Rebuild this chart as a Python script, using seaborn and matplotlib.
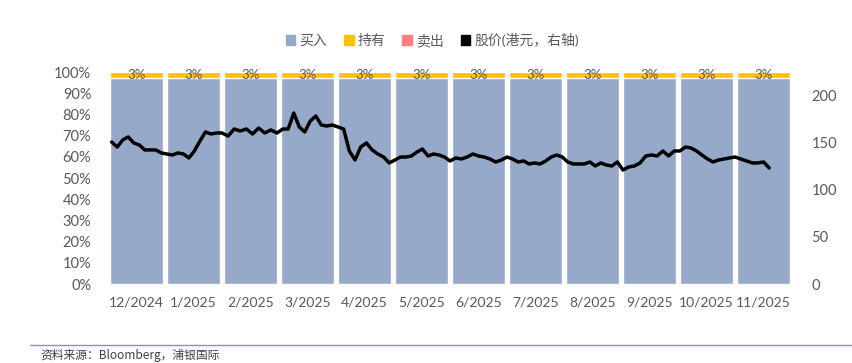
import numpy as np
import pandas as pd
import matplotlib
matplotlib.use("Agg")
import matplotlib.pyplot as plt
import seaborn as sns
from matplotlib.patches import Patch
from matplotlib.lines import Line2D

# Data
months = ['12/2024', '1/2025', '2/2025', '3/2025', '4/2025', '5/2025',
          '6/2025', '7/2025', '8/2025', '9/2025', '10/2025', '11/2025']
buy = [97, 97, 97, 97, 97, 97, 97, 97, 97, 97, 97, 97]
hold = [3, 3, 3, 3, 3, 3, 3, 3, 3, 3, 3, 3]
sell = [0, 0, 0, 0, 0, 0, 0, 0, 0, 0, 0, 0]

price_start = '2024-12-03'
price_step_days = 3
price = [150.7, 145.4, 152.9, 156.1, 149.7, 147.6, 142.3, 142.3, 142.3, 139.1,
         138.0, 136.9, 139.1, 138.0, 133.8, 141.2, 151.8, 161.4, 159.2, 160.3,
         160.3, 157.1, 164.5, 162.4, 164.5, 159.2, 165.6, 160.3, 163.5, 160.3,
         164.5, 164.5, 181.5, 166.7, 161.4, 173.0, 178.3, 168.8, 167.7, 168.8,
         166.7, 164.5, 141.2, 131.6, 145.4, 149.7, 142.3, 138.0, 134.8, 128.5,
         131.6, 134.8, 134.8, 135.9, 140.1, 143.3, 135.9, 138.0, 136.9, 134.8,
         130.6, 133.8, 132.7, 134.8, 138.0, 135.9, 134.8, 132.7, 129.5, 131.6,
         134.8, 132.7, 129.5, 130.6, 127.4, 128.5, 127.4, 130.6, 134.8, 136.9,
         134.8, 129.5, 127.4, 127.4, 127.4, 129.5, 125.3, 128.5, 126.3, 125.3,
         129.5, 121.0, 124.2, 125.3, 128.5, 135.9, 136.9, 135.9, 141.2, 135.9,
         141.2, 141.2, 145.4, 144.4, 141.2, 136.9, 132.7, 129.5, 131.6, 132.7,
         133.8, 134.8, 132.7, 130.6, 128.5, 128.5, 129.5, 123.1]

legend_labels = ['买入', '持有', '卖出', '股价(港元，右轴)']

c_buy = '#97A9C9'
c_hold = '#FFC000'
c_sell = '#FF7C80'
c_text = '#595959'

sns.set_style('white')
plt.rcParams['font.family'] = ['Lato', 'Noto Sans CJK SC', 'DejaVu Sans']

df = pd.DataFrame({'month': months, 'buy': buy, 'hold': hold, 'sell': sell})
df['top_hold'] = df['buy'] + df['hold']
df['top_sell'] = df['top_hold'] + df['sell']

# price dates -> position on the monthly category axis
dates = pd.date_range(price_start, periods=len(price), freq=f'{price_step_days}D')
month_idx = (dates.year - 2024) * 12 + dates.month - 12
pos = month_idx + (dates.day - 1) / dates.days_in_month - 0.5
price_df = pd.DataFrame({'pos': pos, 'price': price})

fig = plt.figure(figsize=(8.53, 3.63), dpi=100)
ax = fig.add_axes([0.1266, 0.2176, 0.802, 0.584])

sns.barplot(data=df, x='month', y='top_sell', color=c_sell, width=0.92,
            saturation=1, ax=ax)
sns.barplot(data=df, x='month', y='top_hold', color=c_hold, width=0.92,
            saturation=1, ax=ax)
sns.barplot(data=df, x='month', y='buy', color=c_buy, width=0.92,
            saturation=1, ax=ax)

for i, row in df.iterrows():
    ax.text(i, row['buy'] + row['hold'] / 2, f"{row['hold']}%", ha='center',
            va='center', fontsize=9.5, color=c_text)

ax.set_ylim(0, 100)
ax.set_yticks(range(0, 101, 10))
ax.set_yticklabels([f'{v}%' for v in range(0, 101, 10)])
ax.set_xlabel('')
ax.set_ylabel('')
ax.tick_params(axis='both', length=0, labelsize=10.5, colors=c_text)
ax.tick_params(axis='x', pad=9, labelsize=10)
ax.tick_params(axis='y', pad=12)

ax2 = ax.twinx()
sns.lineplot(data=price_df, x='pos', y='price', color='black', linewidth=2.5,
             ax=ax2)
ax2.set_ylim(0, 225)
ax2.set_yticks(range(0, 201, 50))
ax2.set_ylabel('')
ax2.set_xlabel('')
ax2.tick_params(axis='y', length=0, labelsize=10.5, colors=c_text, pad=14)
ax.set_xlim(-0.5, len(months) - 0.5)

for a in (ax, ax2):
    for s in a.spines.values():
        s.set_visible(False)

handles = [Patch(color=c_buy), Patch(color=c_hold), Patch(color=c_sell),
           Patch(color='black')]
fig.legend(handles, legend_labels, loc='center', bbox_to_anchor=(0.507, 0.89),
           ncol=4, frameon=False, fontsize=10, labelcolor=c_text,
           handlelength=0.7, handleheight=0.7, handletextpad=0.3,
           columnspacing=1.2)

fig.add_artist(Line2D([0.035, 1.0], [0.05, 0.05], color='#8C8CD0',
                      linewidth=1))
fig.text(0.047, 0.004, '资料来源：Bloomberg，浦银国际', fontsize=8.5,
         color='#404040', va='bottom', family=['Noto Sans CJK SC', 'DejaVu Sans'])

fig.savefig('out.png', dpi=100)
